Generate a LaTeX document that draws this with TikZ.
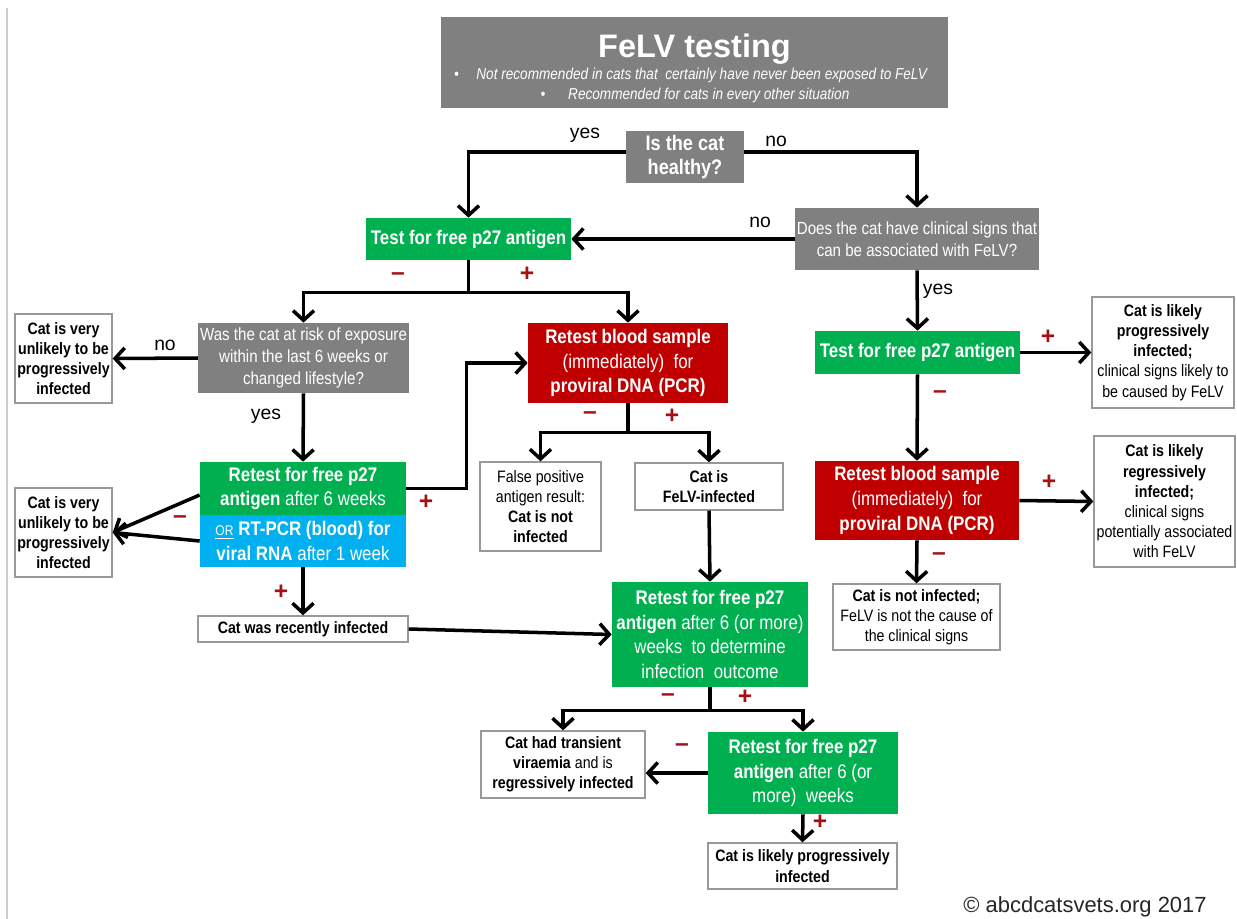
\documentclass[tikz,border=0pt]{standalone}
\usepackage{fontspec}
\setmainfont{Liberation Sans}
\newfontfamily\narrowfont{Liberation Sans}[FakeStretch=0.86]
\usetikzlibrary{arrows.meta}
\definecolor{boxgray}{HTML}{808080}
\definecolor{boxgreen}{HTML}{00B050}
\definecolor{boxred}{HTML}{C00000}
\definecolor{boxblue}{HTML}{00B0F0}
\definecolor{signred}{HTML}{A50F15}
\tikzset{
  >={Straight Barb[length=5.5pt,width=12pt]},
  box/.style={inner sep=1pt, align=center, text=white,
    font=\narrowfont\fontsize{11.2}{14}\selectfont},
  greenbox/.style={box, fill=boxgreen},
  redbox/.style={box, fill=boxred},
  bluebox/.style={box, fill=boxblue},
  graybox/.style={box, fill=boxgray, font=\narrowfont\fontsize{10}{12.5}\selectfont},
  whitebox/.style={box, draw=gray!80, line width=0.8pt, fill=white, text=black,
    font=\narrowfont\fontsize{9.4}{11.5}\selectfont},
  sign/.style={text=signred, font=\bfseries\fontsize{14}{14}\selectfont},
  answer/.style={font=\fontsize{11}{13}\selectfont},
}

\begin{document}
\begin{tikzpicture}[x=0.02cm, y=-0.02cm]
  \useasboundingbox (0,0) rectangle (1237,919);
  \draw[gray!40, line width=0.6pt] (7,8) -- (7,919);

  % header
  \node[fill=boxgray, minimum width=10.14cm, minimum height=1.82cm] (title) at (694.5,62.5) {};
  \node[anchor=base, text=white, font=\bfseries\fontsize{18.5}{20}\selectfont] (titletext) at (694.5,58) {FeLV testing};
  \node[anchor=base, text=white, font=\narrowfont\itshape\fontsize{9}{11}\selectfont] (bullet1) at (690.5,80)
    {\textbullet\hspace{10pt}Not recommended in cats that\ \ certainly have never been exposed to FeLV};
  \node[anchor=base, text=white, font=\narrowfont\itshape\fontsize{9}{11}\selectfont] (bullet2) at (695,100)
    {\textbullet\hspace{13pt}Recommended for cats in every other situation};

  \node[graybox, font=\narrowfont\bfseries\fontsize{12}{13.5}\selectfont, minimum width=2.36cm, minimum height=1.04cm] (healthy) at (685,157) {Is the cat\\healthy?};
  \node[greenbox, minimum width=4.1cm, minimum height=0.84cm] (test1) at (468.5,239) {\textbf{Test for free p27 antigen}};
  \node[graybox, minimum width=4.8cm, minimum height=1.24cm] (clinical) at (917,239) {Does the cat have clinical signs that\\can be associated with FeLV?};

  % left branch
  \node[graybox, minimum width=4.14cm, minimum height=1.4cm] (exposure) at (303.5,358) {Was the cat at risk of exposure\\within the last 6 weeks or\\changed lifestyle?};
  \node[whitebox, minimum width=1.94cm, minimum height=1.78cm] (unlikely1) at (63.5,358.5) {\textbf{Cat is very}\\\textbf{unlikely to be}\\\textbf{progressively}\\\textbf{infected}};
  \node[greenbox, minimum width=4.12cm, minimum height=1.06cm] (retestA) at (303,488.5) {\textbf{Retest for free p27}\\\textbf{antigen} after 6 weeks};
  \node[bluebox, minimum width=4.12cm, minimum height=1.04cm] (rtpcr) at (303,541) {\underline{{\fontsize{8}{8}\selectfont OR}} \textbf{RT-PCR (blood) for}\\\textbf{viral RNA} after 1 week};
  \node[whitebox, minimum width=1.94cm, minimum height=1.78cm] (unlikely2) at (63.5,532.5) {\textbf{Cat is very}\\\textbf{unlikely to be}\\\textbf{progressively}\\\textbf{infected}};
  \node[whitebox, minimum width=4.2cm, minimum height=0.52cm] (recent) at (303,629) {\textbf{Cat was recently infected}};

  % middle
  \node[redbox, minimum width=4cm, minimum height=1.6cm] (red1) at (628,363) {\textbf{Retest blood sample}\\(immediately)\ \ for\\\textbf{proviral DNA (PCR)}};
  \node[whitebox, minimum width=2.42cm, minimum height=1.78cm] (falsepos) at (540.5,506.5) {False positive\\antigen result:\\\textbf{Cat is not}\\\textbf{infected}};
  \node[whitebox, minimum width=2.96cm, minimum height=0.94cm] (felv) at (709,486.5) {\textbf{Cat is}\\\textbf{FeLV-infected}};
  \node[greenbox, minimum width=3.92cm, minimum height=2.1cm] (retestB) at (710,634.5) {\textbf{Retest for free p27}\\\textbf{antigen} after 6 (or more)\\weeks\ \ to determine\\infection\ \ outcome};
  \node[whitebox, minimum width=3.28cm, minimum height=1.34cm] (transient) at (563,764.5) {\textbf{Cat had transient}\\\textbf{viraemia} and is\\\textbf{regressively infected}};
  \node[greenbox, minimum width=3.8cm, minimum height=1.64cm] (retestC) at (803,773) {\textbf{Retest for free p27}\\\textbf{antigen} after 6 (or\\more)\ \ weeks};
  \node[whitebox, minimum width=3.78cm, minimum height=0.92cm] (likely3) at (802.5,866) {\textbf{Cat is likely progressively}\\\textbf{infected}};

  % right branch
  \node[greenbox, minimum width=4.1cm, minimum height=0.86cm] (test2) at (917.5,352.5) {\textbf{Test for free p27 antigen}};
  \node[whitebox, minimum width=2.84cm, minimum height=2.22cm] (likely1) at (1163,352.5) {\textbf{Cat is likely}\\\textbf{progressively}\\\textbf{infected;}\\clinical signs likely to\\be caused by FeLV};
  \node[redbox, minimum width=4.08cm, minimum height=1.58cm] (red2) at (917,500.5) {\textbf{Retest blood sample}\\(immediately)\ \ for\\\textbf{proviral DNA (PCR)}};
  \node[whitebox, minimum width=2.82cm, minimum height=2.62cm] (likely2) at (1164.5,501.5) {\textbf{Cat is likely}\\\textbf{regressively}\\\textbf{infected;}\\clinical signs\\potentially associated\\with FeLV};
  \node[whitebox, minimum width=3.34cm, minimum height=1.32cm] (notinf) at (916.5,617) {\textbf{Cat is not infected;}\\FeLV is not the cause of\\the clinical signs};

  \begin{scope}[->, line width=2pt]
    \draw ([yshift=0.1cm]healthy.west) -| (test1.north);
    \draw ([yshift=0.1cm]healthy.east) -| (clinical.north);
    \draw (clinical.west) -- (test1.east);
    \draw (test1.south) -- ++(0,32) -| (exposure.north);
    \draw (test1.south) -- ++(0,32) -| (red1.north);
    \draw (exposure.west) -- (unlikely1.east);
    \draw (exposure.south) -- (retestA.north);
    \draw ([yshift=-0.13cm]retestA.west) -- (unlikely2.east);
    \draw (rtpcr.west) -- (unlikely2.east);
    \draw (retestA.east) -- ++(60,0) |- (red1.west);
    \draw (rtpcr.south) -- (recent.north);
    \draw (recent.east) -- (retestB.west);
    \draw (red1.south) -- ++(0,29) -| (falsepos.north);
    \draw (red1.south) -- ++(0,29) -| (felv.north);
    \draw (felv.south) -- (retestB.north);
    \draw (retestB.south) -- ++(0,23) -| (transient.north);
    \draw (retestB.south) -- ++(0,23) -| (retestC.north);
    \draw (retestC.west) -- (retestC.west -| transient.east);
    \draw (retestC.south) -- (likely3.north);
    \draw (clinical.south) -- (test2.north);
    \draw (test2.east) -- (likely1.west);
    \draw (test2.south) -- (red2.north);
    \draw (red2.east) -- (likely2.west);
    \draw (red2.south) -- (notinf.north);
  \end{scope}

  % answers and results
  \node[answer] (yes1) at (585,135) {yes};
  \node[answer] (no1) at (776,141) {no};
  \node[answer] (no2) at (760,222) {no};
  \node[answer] (no3) at (165,345) {no};
  \node[answer] (yes2) at (266,416) {yes};
  \node[answer] (yes3) at (938,291) {yes};
  \node[sign] (m1) at (398,277) {–};
  \node[sign] (p1) at (527,274) {+};
  \node[sign] (m2) at (180,520) {–};
  \node[sign] (p2) at (426,502) {+};
  \node[sign] (m3) at (590,416) {–};
  \node[sign] (p3) at (672,416) {+};
  \node[sign] (p4) at (281,592) {+};
  \node[sign] (m4) at (668,698) {–};
  \node[sign] (p5) at (745,697) {+};
  \node[sign] (m5) at (682,748) {–};
  \node[sign] (p6) at (820,822) {+};
  \node[sign] (p7) at (1048,337) {+};
  \node[sign] (m6) at (940,395) {–};
  \node[sign] (p8) at (1049,482) {+};
  \node[sign] (m7) at (939,557) {–};

  \node[font=\fontsize{12.5}{14}\selectfont, text=black!85] (copy) at (1085,907) {© abcdcatsvets.org 2017};
\end{tikzpicture}
\end{document}
